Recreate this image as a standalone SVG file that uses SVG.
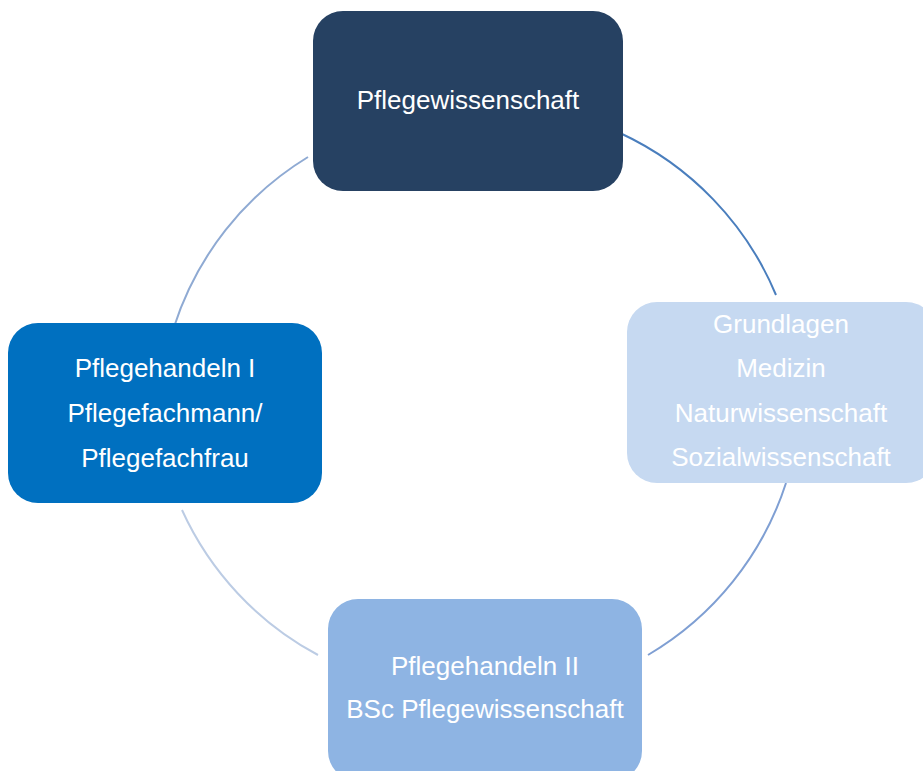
<svg xmlns="http://www.w3.org/2000/svg" width="923" height="771" viewBox="0 0 923 771">
<style>
.box{stroke:none}
.t{font-family:"Liberation Sans",Arial,sans-serif;font-size:26px;fill:#ffffff;text-anchor:middle}
.arc{fill:none;stroke-width:2}
</style>
<rect width="923" height="771" fill="#ffffff"/>
<g id="connectors">
<path class="arc" d="M620,133 A310,310 0 0 1 776,295" stroke="#4A7EBD"/>
<path class="arc" d="M786,483 A310,310 0 0 1 648,655" stroke="#7F9FD3"/>
<path class="arc" d="M318,655 A310,310 0 0 1 182,510" stroke="#BCCCE4"/>
<path class="arc" d="M174,327 A310,310 0 0 1 308,157" stroke="#8FAAD3"/>
</g>
<g id="node-pflegewissenschaft">
<rect class="box" x="313" y="11" width="310" height="180" rx="30" fill="#264162"/>
<text class="t" x="468" y="109">Pflegewissenschaft</text>
</g>
<g id="node-grundlagen">
<rect class="box" x="627" y="302" width="309" height="181" rx="30" fill="#C6D9F1"/>
<text class="t" x="781" y="333">Grundlagen</text>
<text class="t" x="781" y="377">Medizin</text>
<text class="t" x="781" y="422">Naturwissenschaft</text>
<text class="t" x="781" y="466">Sozialwissenschaft</text>
</g>
<g id="node-pflegehandeln-2">
<rect class="box" x="328" y="599" width="314" height="182" rx="30" fill="#8EB4E3"/>
<text class="t" x="485" y="675">Pflegehandeln II</text>
<text class="t" x="485" y="718">BSc Pflegewissenschaft</text>
</g>
<g id="node-pflegehandeln-1">
<rect class="box" x="8" y="323" width="314" height="180" rx="30" fill="#0070C0"/>
<text class="t" x="165" y="377">Pflegehandeln I</text>
<text class="t" x="165" y="422">Pflegefachmann/</text>
<text class="t" x="165" y="467">Pflegefachfrau</text>
</g>
</svg>
